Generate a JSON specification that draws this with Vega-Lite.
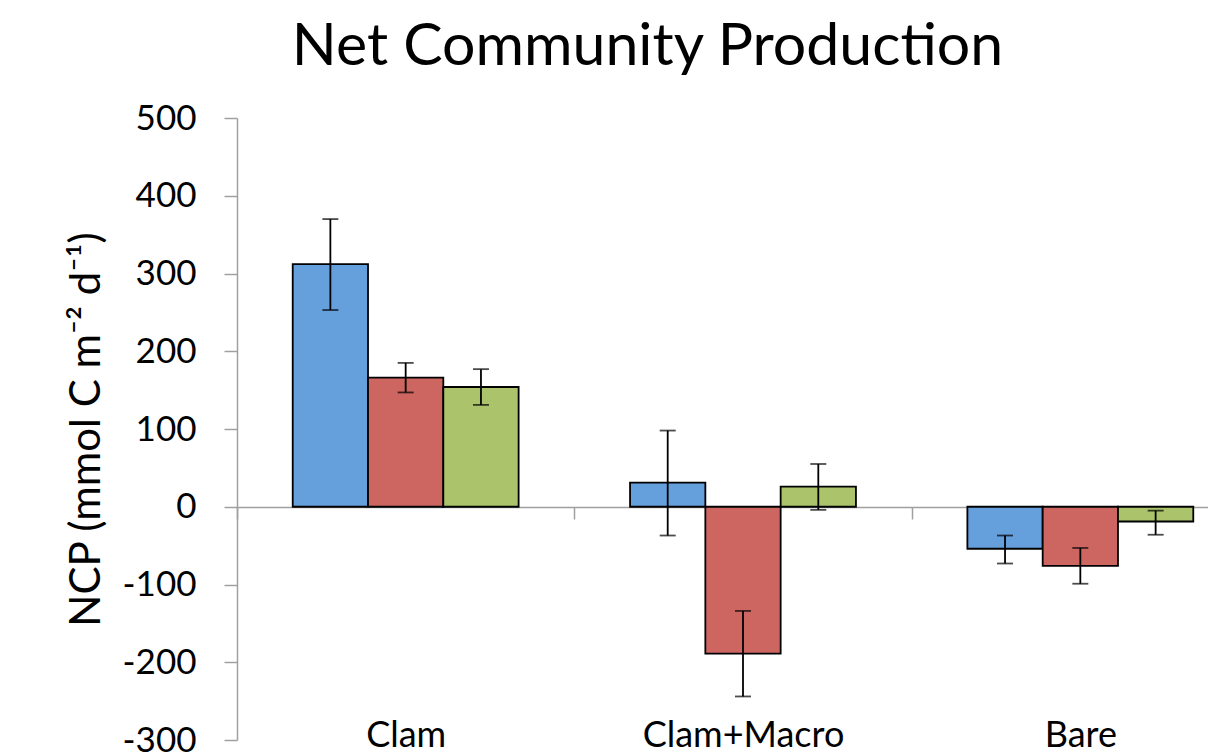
{
  "$schema": "https://vega.github.io/schema/vega-lite/v6.json",
  "width": 971,
  "height": 622,
  "autosize": {"type": "none"},
  "padding": {"left": 237, "top": 118, "right": 0, "bottom": 14},
  "background": "white",
  "title": {"text": "Net Community Production", "font": "Lato", "fontSize": 59, "fontWeight": "normal", "color": "black", "anchor": "middle", "dx": -75, "offset": 24},
  "config": {"view": {"stroke": null}, "font": "Lato"},
  "data": {"values": [
    {"site": "Clam", "series": "Series 1", "ncp": 312, "lo": 253, "hi": 370},
    {"site": "Clam", "series": "Series 2", "ncp": 166, "lo": 147, "hi": 185},
    {"site": "Clam", "series": "Series 3", "ncp": 154, "lo": 131, "hi": 177},
    {"site": "Clam+Macro", "series": "Series 1", "ncp": 31, "lo": -37, "hi": 98},
    {"site": "Clam+Macro", "series": "Series 2", "ncp": -189, "lo": -244, "hi": -134},
    {"site": "Clam+Macro", "series": "Series 3", "ncp": 26, "lo": -4, "hi": 55},
    {"site": "Bare", "series": "Series 1", "ncp": -54, "lo": -73, "hi": -37},
    {"site": "Bare", "series": "Series 2", "ncp": -76, "lo": -99, "hi": -53},
    {"site": "Bare", "series": "Series 3", "ncp": -19, "lo": -36, "hi": -5}
  ]},
  "encoding": {
    "x": {"field": "site", "type": "nominal", "sort": ["Clam", "Clam+Macro", "Bare"],
      "scale": {"range": [0, 1012], "paddingInner": 0, "paddingOuter": 0},
      "axis": {"orient": "bottom", "offset": -233, "title": null, "labelAngle": 0, "labelFontSize": 36, "labelColor": "black", "labelFont": "Lato", "labelPadding": 199, "labelLimit": 0,
        "domainColor": "#A0A0A0", "domainWidth": 1.5, "tickColor": "#A0A0A0", "tickWidth": 1.5, "tickSize": 12, "tickBand": "extent"}},
    "xOffset": {"field": "series", "type": "nominal", "scale": {"paddingInner": 0, "paddingOuter": 0.74}}
  },
  "layer": [
    {
      "mark": {"type": "bar", "stroke": "black", "strokeWidth": 1.8},
      "encoding": {
        "y": {"field": "ncp", "type": "quantitative", "scale": {"domain": [-300, 500], "nice": false},
          "axis": {"title": "NCP (mmol C m⁻² d⁻¹)", "values": [-300, -200, -100, 0, 100, 200, 300, 400, 500], "grid": false,
            "labelExpr": "'' + datum.value",
            "domainColor": "#A0A0A0", "domainWidth": 1.5, "tickColor": "#A0A0A0", "tickWidth": 1.5, "tickSize": 13,
            "labelFontSize": 35, "labelColor": "black", "labelPadding": 28, "labelFont": "Lato",
            "titleFontSize": 42, "titleFont": "Lato", "titleFontWeight": "normal", "titleColor": "black", "titlePadding": 14}},
        "color": {"field": "series", "type": "nominal", "scale": {"range": ["#659FDC", "#CD6660", "#ABC46B"]}, "legend": null}
      }
    },
    {
      "mark": {"type": "rule", "color": "black", "strokeWidth": 1.8},
      "encoding": {
        "y": {"field": "lo", "type": "quantitative", "title": "NCP (mmol C m⁻² d⁻¹)"},
        "y2": {"field": "hi"}
      }
    },
    {
      "mark": {"type": "tick", "color": "black", "thickness": 1.8, "size": 16},
      "encoding": {
        "y": {"field": "lo", "type": "quantitative", "title": "NCP (mmol C m⁻² d⁻¹)"}
      }
    },
    {
      "mark": {"type": "tick", "color": "black", "thickness": 1.8, "size": 16},
      "encoding": {
        "y": {"field": "hi", "type": "quantitative", "title": "NCP (mmol C m⁻² d⁻¹)"}
      }
    }
  ]
}
